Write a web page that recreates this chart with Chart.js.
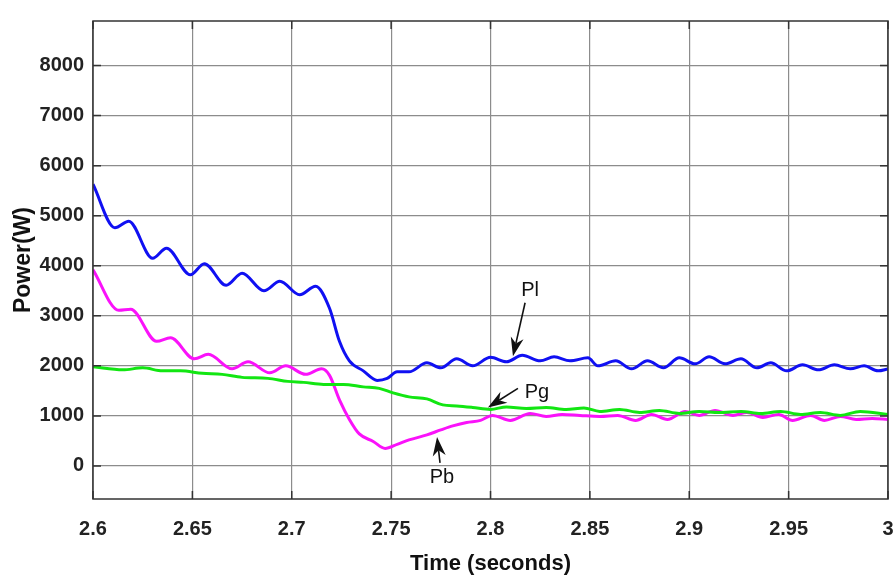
<!DOCTYPE html>
<html>
<head>
<meta charset="utf-8">
<script src="https://cdn.jsdelivr.net/npm/chart.js@4.4.1/dist/chart.umd.min.js"></script>
<style>
  html, body { margin: 0; padding: 0; background: #fff; }
  #wrap { width: 893px; height: 583px; }
</style>
</head>
<body>
<div id="wrap"><canvas id="c" width="893" height="583"></canvas></div>
<script>
// load power Pl (blue)
const plTime = [2.600, 2.611, 2.618, 2.630, 2.637, 2.649, 2.656, 2.667, 2.675, 2.686, 2.694, 2.704, 2.712,
  2.719, 2.724, 2.729, 2.736, 2.743, 2.748, 2.753, 2.759, 2.768, 2.775, 2.783, 2.791, 2.800, 2.808, 2.816,
  2.825, 2.832, 2.840, 2.849, 2.854, 2.863, 2.871, 2.879, 2.887, 2.895, 2.903, 2.910, 2.918, 2.926, 2.934,
  2.941, 2.949, 2.957, 2.965, 2.973, 2.981, 2.988, 2.995, 3.000];
const plPower = [5630, 4760, 4890, 4150, 4350, 3820, 4040, 3610, 3850, 3500, 3690, 3420, 3590,
  3150, 2490, 2100, 1900, 1710, 1750, 1880, 1880, 2060, 1960, 2140, 2000, 2170, 2080, 2210,
  2100, 2180, 2100, 2160, 2000, 2100, 1940, 2100, 1960, 2160, 2040, 2180, 2040, 2140, 1960,
  2060, 1900, 2020, 1920, 2020, 1940, 2000, 1900, 1940];

// battery power Pb (magenta)
const pbTime = [2.600, 2.613, 2.619, 2.632, 2.639, 2.651, 2.658, 2.670, 2.678, 2.689, 2.697, 2.707, 2.715,
  2.719, 2.724, 2.729, 2.734, 2.741, 2.747, 2.753, 2.759, 2.768, 2.775, 2.781, 2.788, 2.795, 2.801, 2.810,
  2.820, 2.828, 2.836, 2.845, 2.855, 2.864, 2.873, 2.881, 2.889, 2.898, 2.905, 2.913, 2.922, 2.929, 2.937,
  2.945, 2.952, 2.961, 2.968, 2.976, 2.984, 2.992, 3.000];
const pbPower = [3920, 3110, 3130, 2490, 2560, 2140, 2230, 1940, 2080, 1860, 2000, 1830, 1940,
  1810, 1320, 930, 640, 490, 350, 430, 520, 620, 720, 800, 870, 910, 1010, 910,
  1050, 990, 1030, 1010, 990, 1010, 910, 1030, 930, 1090, 1010, 1110, 1010, 1070, 970,
  1030, 910, 1010, 910, 990, 930, 950, 930];

// grid power Pg (green)
const pgTime = [2.600, 2.615, 2.625, 2.635, 2.644, 2.655, 2.665, 2.675, 2.688, 2.698, 2.706, 2.716, 2.726,
  2.736, 2.744, 2.751, 2.759, 2.768, 2.776, 2.783, 2.791, 2.800, 2.808, 2.818, 2.828, 2.838, 2.847, 2.855,
  2.865, 2.875, 2.885, 2.895, 2.905, 2.915, 2.926, 2.936, 2.946, 2.956, 2.966, 2.976, 2.986, 3.000];
const pgPower = [1980, 1920, 1960, 1900, 1900, 1850, 1830, 1770, 1750, 1690, 1670, 1630, 1630,
  1580, 1550, 1460, 1380, 1340, 1220, 1200, 1170, 1130, 1180, 1150, 1170, 1130, 1160, 1090,
  1130, 1070, 1110, 1050, 1090, 1070, 1090, 1050, 1090, 1030, 1070, 1010, 1090, 1030];

const xTicks = [2.6, 2.65, 2.7, 2.75, 2.8, 2.85, 2.9, 2.95, 3];
const xTickLabels = ['2.6', '2.65', '2.7', '2.75', '2.8', '2.85', '2.9', '2.95', '3'];
const yTicks = [0, 1000, 2000, 3000, 4000, 5000, 6000, 7000, 8000];

// annotation labels: text, text anchor, arrow tail, arrow tip (data units)
const noteText = ['Pl', 'Pg', 'Pb'];
const noteAt = [[2.8199, 3500], [2.8234, 1460], [2.7756, -230]];
const noteTail = [[2.8174, 3260], [2.8138, 1550], [2.7746, 60]];
const noteTip = [[2.8113, 2190], [2.7987, 1170], [2.7731, 580]];

const FONT = "'Liberation Sans', Arial, sans-serif";

const zip = (t, p) => t.map((x, i) => ({ x: x, y: p[i] }));

const frameTicks = {
  id: 'frameTicks',
  afterDraw(chart) {
    const { ctx, chartArea: a, scales } = chart;
    ctx.save();
    ctx.strokeStyle = '#333';
    ctx.lineWidth = 1.5;
    ctx.beginPath();
    yTicks.forEach(v => {
      const y = scales.y.getPixelForValue(v);
      ctx.moveTo(a.left, y); ctx.lineTo(a.left + 8, y);
      ctx.moveTo(a.right, y); ctx.lineTo(a.right - 8, y);
    });
    xTicks.forEach(v => {
      const x = scales.x.getPixelForValue(v);
      ctx.moveTo(x, a.bottom); ctx.lineTo(x, a.bottom - 8);
      ctx.moveTo(x, a.top); ctx.lineTo(x, a.top + 8);
    });
    ctx.stroke();
    ctx.strokeRect(a.left, a.top, a.right - a.left, a.bottom - a.top);

    // labels and arrows
    ctx.fillStyle = '#111';
    ctx.strokeStyle = '#111';
    ctx.font = "20px " + FONT;
    ctx.textAlign = 'center';
    ctx.textBaseline = 'middle';
    noteText.forEach((txt, i) => {
      ctx.fillText(txt, scales.x.getPixelForValue(noteAt[i][0]), scales.y.getPixelForValue(noteAt[i][1]));
      const x0 = scales.x.getPixelForValue(noteTail[i][0]), y0 = scales.y.getPixelForValue(noteTail[i][1]);
      const x1 = scales.x.getPixelForValue(noteTip[i][0]), y1 = scales.y.getPixelForValue(noteTip[i][1]);
      const ang = Math.atan2(y1 - y0, x1 - x0);
      const c = Math.cos(ang), s = Math.sin(ang);
      const hl = 19, hw = 6.5, notch = 0.7;
      ctx.lineWidth = 1.6;
      ctx.beginPath();
      ctx.moveTo(x0, y0);
      ctx.lineTo(x1 - c * hl * notch, y1 - s * hl * notch);
      ctx.stroke();
      ctx.beginPath();
      ctx.moveTo(x1, y1);
      ctx.lineTo(x1 - c * hl - s * hw, y1 - s * hl + c * hw);
      ctx.lineTo(x1 - c * hl * notch, y1 - s * hl * notch);
      ctx.lineTo(x1 - c * hl + s * hw, y1 - s * hl - c * hw);
      ctx.closePath();
      ctx.fill();
    });
    ctx.restore();
  }
};

const lineStyle = { borderWidth: 3, pointRadius: 0, fill: false, cubicInterpolationMode: 'monotone' };

new Chart(document.getElementById('c'), {
  type: 'line',
  data: {
    datasets: [
      Object.assign({ label: 'Pl', data: zip(plTime, plPower), borderColor: '#1010f2' }, lineStyle),
      Object.assign({ label: 'Pg', data: zip(pgTime, pgPower), borderColor: '#12e612' }, lineStyle),
      Object.assign({ label: 'Pb', data: zip(pbTime, pbPower), borderColor: '#fa12fa' }, lineStyle)
    ]
  },
  options: {
    responsive: false,
    animation: false,
    layout: { padding: { left: 0, right: 5, top: 7, bottom: 0 } },
    plugins: { legend: { display: false }, tooltip: { enabled: false } },
    scales: {
      x: {
        type: 'linear', min: 2.6, max: 3,
        afterFit: s => { s.height = 84; s.paddingRight = 0; s.paddingLeft = 0; },
        afterBuildTicks: s => { s.ticks = xTicks.map(v => ({ value: v })); },
        grid: { color: '#8c8c8c', lineWidth: 1.2, drawTicks: false },
        border: { display: false },
        ticks: {
          padding: 18, color: '#222', maxRotation: 0,
          font: { family: FONT, size: 20, weight: 'bold' },
          callback: (v) => xTickLabels[xTicks.findIndex(t => Math.abs(t - v) < 1e-6)]
        },
        title: {
          display: true, text: 'Time (seconds)', color: '#111',
          font: { family: FONT, size: 22, weight: 'bold' }, padding: { top: 0, bottom: 6 }
        }
      },
      y: {
        min: -660, max: 8890,
        afterFit: s => { s.width = 93; },
        afterBuildTicks: s => { s.ticks = yTicks.map(v => ({ value: v })); },
        grid: { color: '#8c8c8c', lineWidth: 1.2, drawTicks: false },
        border: { display: false },
        ticks: {
          padding: 9, color: '#222',
          font: { family: FONT, size: 20, weight: 'bold' },
          callback: (v) => String(v)
        },
        title: {
          display: true, text: 'Power(W)', color: '#111',
          font: { family: FONT, size: 23, weight: 'bold' }, padding: { top: 10, bottom: 0 }
        }
      }
    }
  },
  plugins: [frameTicks]
});
</script>
</body>
</html>
